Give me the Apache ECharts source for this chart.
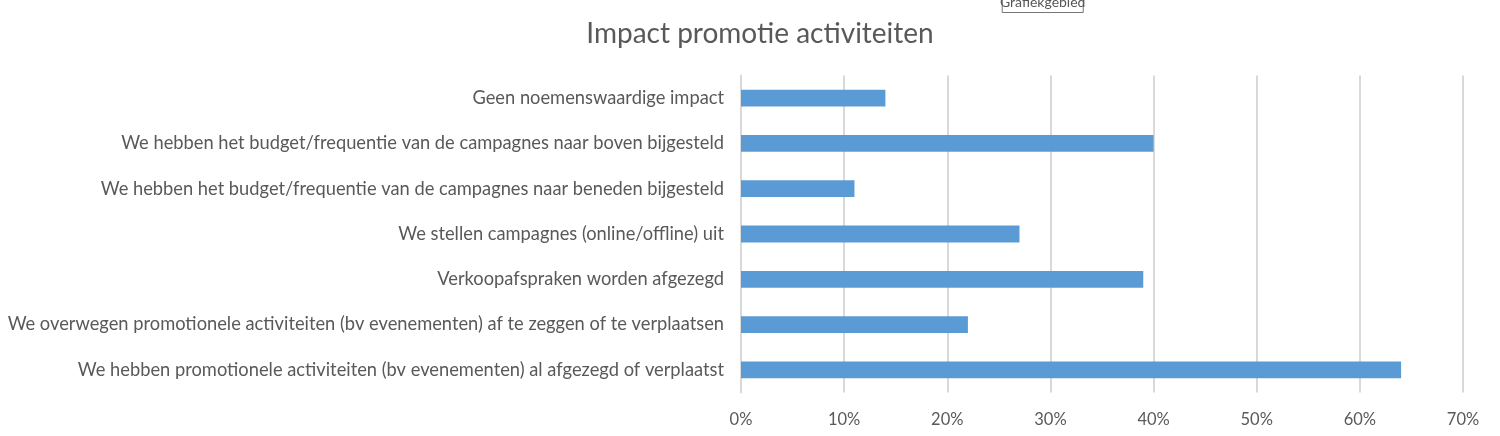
<!DOCTYPE html>
<html>
<head>
<meta charset="utf-8">
<script src="https://cdn.jsdelivr.net/npm/echarts@6/dist/echarts.min.js"></script>
<style>html,body{margin:0;padding:0;background:#fff}#c{width:1500px;height:436px}</style>
</head>
<body>
<div id="c"></div>
<script>
const titleText = "Impact promotie activiteiten";
const categories = [
  "Geen noemenswaardige impact",
  "We hebben het budget/frequentie van de campagnes naar boven bijgesteld",
  "We hebben het budget/frequentie van de campagnes naar beneden bijgesteld",
  "We stellen campagnes (online/offline) uit",
  "Verkoopafspraken worden afgezegd",
  "We overwegen promotionele activiteiten (bv evenementen) af te zeggen of te verplaatsen",
  "We hebben promotionele activiteiten (bv evenementen) al afgezegd of verplaatst"
];
const values = [14, 40, 11, 27, 39, 22, 64];
const tickMax = 70;
const tickStep = 10;

const FONT = "Lato";
const chart = echarts.init(document.getElementById('c'), null, {renderer: 'canvas'});
chart.setOption({
  animation: false,
  backgroundColor: '#ffffff',
  title: {
    text: titleText,
    left: 755, top: 15, textAlign: 'center',
    textStyle: {fontFamily: FONT, fontSize: 28, fontWeight: 'normal', color: '#595959'}
  },
  graphic: [{
    type: 'group', left: 1000, top: -6,
    children: [
      {type: 'rect', shape: {x: 0, y: 0, width: 81, height: 18}, style: {fill: '#ffffff', stroke: '#767676', lineWidth: 1}},
      {type: 'text', style: {x: 40.5, y: 1, text: 'Grafiekgebied', align: 'center', fontFamily: FONT, fontSize: 14, fill: '#575757'}}
    ]
  }],
  grid: {left: 741, right: 37, top: 75.5, bottom: 43.5, containLabel: false},
  xAxis: {
    type: 'value', min: 0, max: tickMax, interval: tickStep,
    axisLine: {show: false}, axisTick: {show: false},
    splitLine: {show: true, lineStyle: {color: '#d9d9d9', width: 2}},
    axisLabel: {formatter: v => v + '%', fontFamily: FONT, fontSize: 16.5, color: '#595959', margin: 19}
  },
  yAxis: {
    type: 'category', data: categories, inverse: true,
    axisLine: {show: true, lineStyle: {color: '#d9d9d9', width: 2}},
    axisTick: {show: false},
    axisLabel: {fontFamily: FONT, fontSize: 18.3, color: '#595959', margin: 17}
  },
  series: [{
    type: 'bar', data: values, barWidth: '37%',
    itemStyle: {color: '#5b9bd5'}
  }]
});
</script>
</body>
</html>
